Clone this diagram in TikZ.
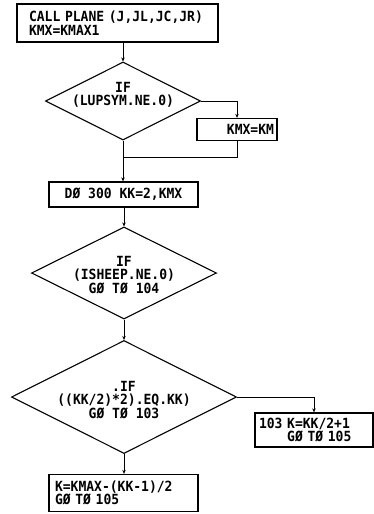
\documentclass[tikz,border=0pt]{standalone}
\usepackage{fontspec}
\newfontfamily\flowfont[FakeStretch=0.93]{DejaVu Sans Mono Bold}
\usetikzlibrary{shapes.geometric,arrows.meta}
\begin{document}
\begin{tikzpicture}[x=1pt,y=-1pt,
  every node/.style={font=\flowfont\fontsize{14}{13.5}\selectfont},
  procbox/.style={draw,line width=1.3pt,rectangle,inner sep=0pt},
  decision/.style={draw,line width=1.1pt,diamond,inner sep=0pt},
  flowtext/.style={align=center,inner sep=0pt},
  flow/.style={line width=1pt},
  arr/.style={flow,-{Stealth[length=4pt,width=3.5pt]}}
]
\useasboundingbox (0,0) rectangle (374,514);
% boxes
\node[procbox,minimum width=201pt,minimum height=38pt,text width=177pt,inner xsep=12pt,align=left] (b1) at (117.5,23)
  {CALL PLANE (J,JL,JC,JR)\\KMX=KMAX1};
\node[decision,minimum width=155pt,minimum height=78pt] (d1) at (123,101) {};
\node[flowtext] (d1t) at (123,95) {IF\\(LUPSYM.NE.0)};
\node[procbox,minimum width=80pt,minimum height=22pt,text width=74pt,inner xsep=3pt,align=right] (b2) at (237,129.5) {KMX=KM};
\node[procbox,minimum width=149pt,minimum height=25pt] (b3) at (123.5,194.5) {DØ 300 KK=2,KMX};
\node[decision,minimum width=185pt,minimum height=92pt] (d2) at (124,273) {};
\node[flowtext] (d2t) at (124,275) {IF\\(ISHEEP.NE.0)\\GØ TØ 104};
\node[decision,minimum width=225pt,minimum height=113pt] (d3) at (124,397) {};
\node[flowtext] (d3t) at (124,400) {.IF\\((KK/2)*2).EQ.KK)\\GØ TØ 103};
\node[procbox,minimum width=118pt,minimum height=34pt,text width=110pt,inner xsep=4pt,align=left] (b4) at (314,430)
  {103 K=KK/2+1\\\phantom{103 }GØ TØ 105};
\node[procbox,minimum width=149pt,minimum height=37pt,text width=137pt,inner xsep=6pt,align=left] (b5) at (123.5,493)
  {K=KMAX-(KK-1)/2\\GØ TØ 105};
\coordinate (m) at (123,157);
% connectors
\draw[arr] (b1.south -| d1.north) -- (d1.north);
\draw[arr] (d1.east) -| (b2.north);
\draw[flow] (b2.south) |- (m);
\draw[arr] (d1.south) -- (b3.north -| d1.south);
\draw[arr] (b3.south -| d2.north) -- (d2.north);
\draw[arr] (d2.south) -- (d3.north);
\draw[arr] (d3.east) -| (b4.north);
\draw[arr] (d3.south) -- (b5.north -| d3.south);
\end{tikzpicture}
\end{document}
